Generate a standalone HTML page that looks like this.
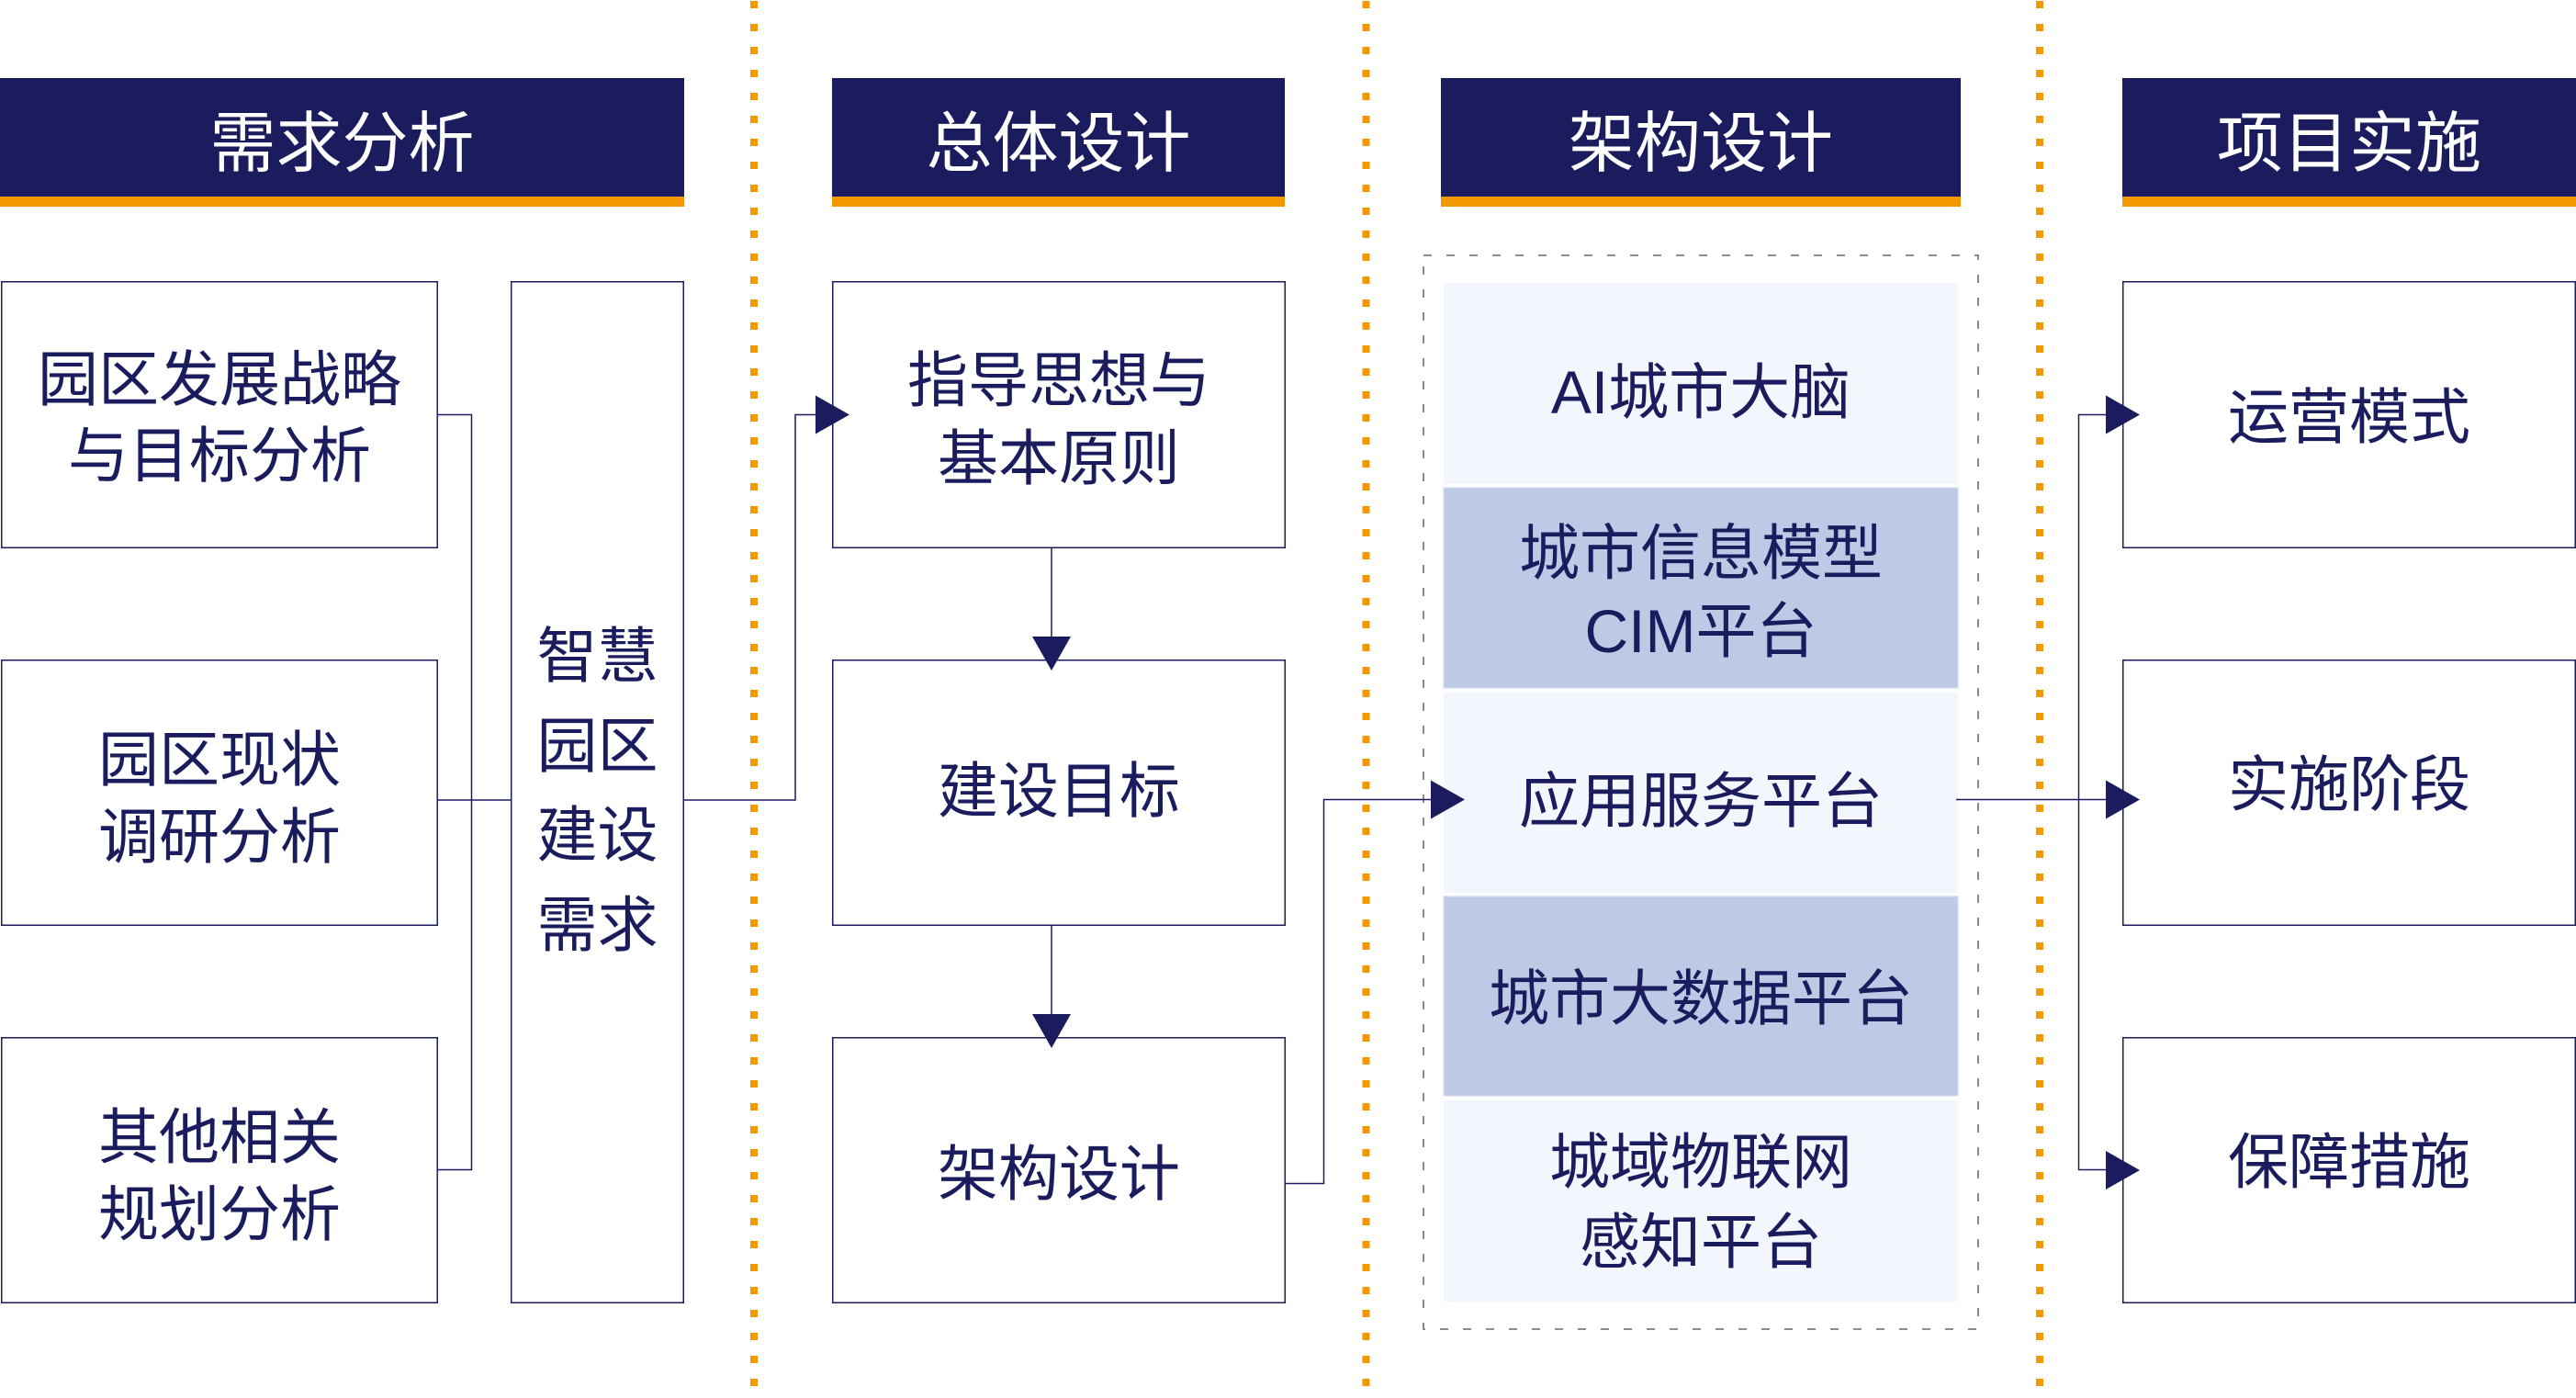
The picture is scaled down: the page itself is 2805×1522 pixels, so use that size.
<!DOCTYPE html>
<html>
<head>
<meta charset="utf-8">
<style>
  html,body{margin:0;padding:0;background:#ffffff;}
  body{width:2805px;height:1522px;position:relative;overflow:hidden;}
  svg{position:absolute;left:0;top:0;}
  .t{position:absolute;font-family:"Liberation Sans","Noto Sans CJK SC",sans-serif;color:#1b1c5e;font-size:66px;line-height:84px;text-align:center;white-space:nowrap;font-weight:400;}
  .h{position:absolute;font-family:"Liberation Sans","Noto Sans CJK SC",sans-serif;color:#ffffff;font-size:72px;line-height:72px;text-align:center;white-space:nowrap;font-weight:400;}
</style>
</head>
<body>
<svg width="2805" height="1522" viewBox="0 0 2805 1522" xmlns="http://www.w3.org/2000/svg">
  <!-- orange dotted separators -->
  <line x1="821" y1="1" x2="821" y2="1522" stroke="#f39800" stroke-width="8" stroke-dasharray="8 17"/>
  <line x1="1487.5" y1="1" x2="1487.5" y2="1522" stroke="#f39800" stroke-width="8" stroke-dasharray="8 17"/>
  <line x1="2221" y1="1" x2="2221" y2="1522" stroke="#f39800" stroke-width="8" stroke-dasharray="8 17"/>

  <!-- headers -->
  <rect x="0" y="85" width="745" height="129" fill="#1b1c5e"/>
  <rect x="0" y="214" width="745" height="11" fill="#f39800"/>
  <rect x="906" y="85" width="493" height="129" fill="#1b1c5e"/>
  <rect x="906" y="214" width="493" height="11" fill="#f39800"/>
  <rect x="1569" y="85" width="566" height="129" fill="#1b1c5e"/>
  <rect x="1569" y="214" width="566" height="11" fill="#f39800"/>
  <rect x="2311" y="85" width="494" height="129" fill="#1b1c5e"/>
  <rect x="2311" y="214" width="494" height="11" fill="#f39800"/>

  <!-- column 1 boxes -->
  <g fill="#ffffff" stroke="#1b1c5e" stroke-width="1.5">
    <rect x="1.75" y="306.75" width="474.5" height="289.5"/>
    <rect x="1.75" y="718.75" width="474.5" height="288.5"/>
    <rect x="1.75" y="1129.75" width="474.5" height="288.5"/>
    <rect x="556.75" y="306.75" width="187.5" height="1111.5"/>
    <!-- column 2 -->
    <rect x="906.75" y="306.75" width="492.5" height="289.5"/>
    <rect x="906.75" y="718.75" width="492.5" height="288.5"/>
    <rect x="906.75" y="1129.75" width="492.5" height="288.5"/>
    <!-- column 4 -->
    <rect x="2311.75" y="306.75" width="492.5" height="289.5"/>
    <rect x="2311.75" y="718.75" width="492.5" height="288.5"/>
    <rect x="2311.75" y="1129.75" width="492.5" height="288.5"/>
  </g>

  <!-- column 3 dashed container -->
  <rect x="1550" y="278" width="604" height="1169" fill="none" stroke="#7d7d7d" stroke-width="1.8" stroke-dasharray="9 16"/>
  <!-- bands -->
  <rect x="1572" y="308" width="560" height="219" fill="#f3f6fc"/>
  <rect x="1572" y="531" width="560" height="218" fill="#bdc9e5" stroke="#d6ddef" stroke-width="1.5"/>
  <rect x="1572" y="754" width="560" height="218" fill="#f3f6fc"/>
  <rect x="1572" y="976" width="560" height="217" fill="#bdc9e5" stroke="#d6ddef" stroke-width="1.5"/>
  <rect x="1572" y="1198" width="560" height="219" fill="#f3f6fc"/>

  <!-- connectors -->
  <g fill="none" stroke="#1b1c5e" stroke-width="1.5">
    <path d="M476 451.5 H513.5 V1273.5 H476"/>
    <path d="M476 871 H556"/>
    <path d="M745 871 H866 V451.5 H890"/>
    <path d="M1145 597 V695"/>
    <path d="M1145 1008 V1106"/>
    <path d="M1400 1288.5 H1441.5 V870.5 H1560"/>
    <path d="M2130 870.5 H2295"/>
    <path d="M2295 451.5 H2263.5 V1273.5 H2295"/>
  </g>

  <!-- arrowheads -->
  <g fill="#1b1c5e">
    <polygon points="888,430.5 925,451.5 888,472.5"/>
    <polygon points="1124,693 1166,693 1145,730"/>
    <polygon points="1124,1104 1166,1104 1145,1141"/>
    <polygon points="1558,849.5 1595,870.5 1558,891.5"/>
    <polygon points="2293,430.5 2330,451.5 2293,472.5"/>
    <polygon points="2293,849.5 2330,870.5 2293,891.5"/>
    <polygon points="2293,1253 2330,1274 2293,1295"/>
  </g>
</svg>

<!-- header texts -->
<div class="h" style="left:0;width:745px;top:121px;">需求分析</div>
<div class="h" style="left:906px;width:493px;top:121px;">总体设计</div>
<div class="h" style="left:1569px;width:566px;top:121px;">架构设计</div>
<div class="h" style="left:2311px;width:494px;top:121px;">项目实施</div>

<!-- column 1 texts -->
<div class="t" style="left:1px;width:476px;top:372px;line-height:83px;">园区发展战略<br>与目标分析</div>
<div class="t" style="left:1px;width:476px;top:785px;">园区现状<br>调研分析</div>
<div class="t" style="left:1px;width:476px;top:1196px;">其他相关<br>规划分析</div>
<div class="t" style="left:556px;width:189px;top:666px;line-height:97.6px;">智慧<br>园区<br>建设<br>需求</div>

<!-- column 2 texts -->
<div class="t" style="left:906px;width:494px;top:372px;line-height:85px;">指导思想与<br>基本原则</div>
<div class="t" style="left:906px;width:494px;top:819px;">建设目标</div>
<div class="t" style="left:906px;width:494px;top:1236px;">架构设计</div>

<!-- column 3 texts -->
<div class="t" style="left:1572px;width:560px;top:385px;">AI城市大脑</div>
<div class="t" style="left:1572px;width:560px;top:560px;line-height:84.5px;">城市信息模型<br>CIM平台</div>
<div class="t" style="left:1572px;width:560px;top:830px;">应用服务平台</div>
<div class="t" style="left:1572px;width:560px;top:1045px;">城市大数据平台</div>
<div class="t" style="left:1572px;width:560px;top:1222px;line-height:86.5px;">城域物联网<br>感知平台</div>

<!-- column 4 texts -->
<div class="t" style="left:2311px;width:494px;top:412px;">运营模式</div>
<div class="t" style="left:2311px;width:494px;top:812px;">实施阶段</div>
<div class="t" style="left:2311px;width:494px;top:1223px;">保障措施</div>
</body>
</html>
